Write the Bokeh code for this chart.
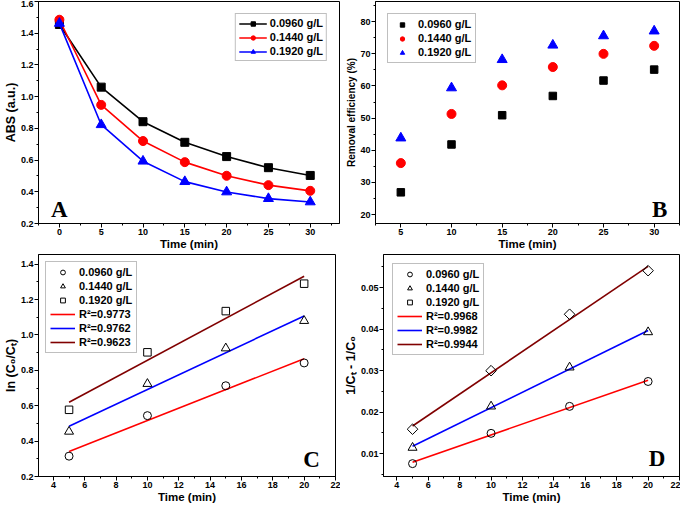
import numpy as np
from bokeh.plotting import figure
from bokeh.layouts import column, row
from bokeh.models import (Range1d, Legend, LegendItem, Label,
                          SingleIntervalTicker, PrintfTickFormatter)
from bokeh.embed import file_html
from bokeh.resources import INLINE

# ---------------- data ----------------
series_labels = ["0.0960 g/L", "0.1440 g/L", "0.1920 g/L"]

time_a = [0, 5, 10, 15, 20, 25, 30]
abs_0960 = [1.455, 1.060, 0.842, 0.712, 0.622, 0.552, 0.503]
abs_1440 = [1.485, 0.948, 0.720, 0.587, 0.501, 0.442, 0.406]
abs_1920 = [1.462, 0.823, 0.593, 0.464, 0.399, 0.357, 0.336]

time_b = [5, 10, 15, 20, 25, 30]
rem_0960 = [26.9, 41.8, 50.9, 56.9, 61.7, 65.1]
rem_1440 = [36.0, 51.3, 60.2, 65.9, 70.0, 72.5]
rem_1920 = [43.8, 59.4, 68.2, 72.7, 75.6, 77.1]

time_k = [5, 10, 15, 20]
lnc_0960 = [0.315, 0.544, 0.713, 0.842]
lnc_1440 = [0.454, 0.724, 0.925, 1.080]
lnc_1920 = [0.577, 0.902, 1.135, 1.290]
r2_c = ["R\u00b2=0.9773", "R\u00b2=0.9762", "R\u00b2=0.9623"]

inv_0960 = [0.0076, 0.0149, 0.0214, 0.0274]
inv_1440 = [0.01145, 0.0214, 0.0308, 0.0393]
inv_1920 = [0.0159, 0.0300, 0.0436, 0.0541]
r2_d = ["R\u00b2=0.9968", "R\u00b2=0.9982", "R\u00b2=0.9944"]

FONT = "Liberation Sans"
SERIF = "Liberation Serif"
FIT_COLORS = ["#ff0000", "#0000ff", "#800000"]


def make_fig(width, height, xr, yr, bl, br, bt, bb, xint, yint, xfmt, yfmt,
             xlabel, ylabel, ylabel_size):
    p = figure(width=width, height=height,
               x_range=Range1d(*xr), y_range=Range1d(*yr),
               output_backend="svg", toolbar_location=None,
               min_border_left=bl, min_border_right=br,
               min_border_top=bt, min_border_bottom=bb)
    p.xgrid.visible = False
    p.ygrid.visible = False
    p.outline_line_color = "black"
    p.outline_line_width = 1
    p.outline_line_alpha = 1
    p.background_fill_color = "white"
    p.xaxis.ticker = SingleIntervalTicker(interval=xint, num_minor_ticks=2)
    p.yaxis.ticker = SingleIntervalTicker(interval=yint, num_minor_ticks=2)
    p.xaxis.formatter = PrintfTickFormatter(format=xfmt)
    p.yaxis.formatter = PrintfTickFormatter(format=yfmt)
    p.xaxis.axis_label = xlabel
    p.yaxis.axis_label = ylabel
    for ax in (p.xaxis[0], p.yaxis[0]):
        ax.axis_line_color = "black"
        ax.axis_line_width = 1
        ax.major_tick_line_color = "black"
        ax.minor_tick_line_color = "black"
        ax.major_tick_in = 0
        ax.major_tick_out = 4
        ax.minor_tick_in = 0
        ax.minor_tick_out = 2
        ax.major_label_text_font = FONT
        ax.major_label_text_font_style = "bold"
        ax.major_label_text_font_size = "9px"
        ax.major_label_text_color = "black"
        ax.major_label_standoff = 1
        ax.axis_label_text_font = FONT
        ax.axis_label_text_font_style = "bold"
        ax.axis_label_text_color = "black"
        ax.axis_label_standoff = 0
    p.xaxis.axis_label_text_font_size = "11.5px"
    p.yaxis.axis_label_text_font_size = ylabel_size
    return p


def style_legend(leg, glyph_w, glyph_h, spacing, padding, standoff, margin):
    leg.border_line_color = "#808080"
    leg.border_line_width = 1
    leg.background_fill_color = "white"
    leg.background_fill_alpha = 1
    leg.glyph_width = glyph_w
    leg.glyph_height = glyph_h
    leg.label_height = glyph_h
    leg.spacing = spacing
    leg.padding = padding
    leg.label_standoff = standoff
    leg.margin = margin
    leg.label_text_font = FONT
    leg.label_text_font_style = "bold"
    leg.label_text_font_size = "11px"
    leg.label_text_color = "black"


def letter(p, x, y, txt, align):
    p.add_layout(Label(x=x, y=y, text=txt, text_font=SERIF,
                       text_font_style="bold", text_font_size="23px",
                       text_align=align, text_baseline="alphabetic",
                       text_color="black"))


pa = make_fig(340, 252, (-2.5, 33.5), (0.2, 1.6), 36, 1, 1, 20, 5, 0.2,
              "%d", "%.1f", "Time (min)", "ABS (a.u.)", "12.5px")
colors = ["black", "#ff0000", "#0000ff"]
markers = ["square", "circle", "triangle"]
sizes = [8, 9, 10]
items = []
for ys, c, m, s, lab in zip([abs_0960, abs_1440, abs_1920], colors, markers, sizes, series_labels):
    ln = pa.line(time_a, ys, line_color=c, line_width=1.6)
    sc = pa.scatter(time_a, ys, marker=m, size=s, fill_color=c, line_color=c)
    items.append(LegendItem(label=lab, renderers=[ln, sc]))
leg_a = Legend(items=items, location="top_right")
style_legend(leg_a, 28, 11, 2, 3, 3, 12)
pa.add_layout(leg_a)
letter(pa, -1.0, 0.29, "A", "left")

pb = make_fig(340, 252, (2.5, 32.5), (17.2, 86.3), 35, 1, 1, 20, 5, 10,
              "%d", "%d", "Time (min)", "Removal efficiency (%)", "10px")
items = []
for ys, c, m, s, lab in zip([rem_0960, rem_1440, rem_1920], colors, markers, [7.5, 9, 10], series_labels):
    sc = pb.scatter(time_b, ys, marker=m, size=s, fill_color=c, line_color=c)
    items.append(LegendItem(label=lab, renderers=[sc]))
leg_b = Legend(items=items, location="top_left")
style_legend(leg_b, 20, 11, 2, 4, 6, 12)
pb.add_layout(leg_b)
letter(pb, 31.3, 21.5, "B", "right")


def kinetic(p, ylists, open_markers, msizes, r2labels, angles):
    sc_items, fit_items = [], []
    for ys, c, r2 in zip(ylists, FIT_COLORS, r2labels):
        slope, icpt = np.polyfit(time_k, ys, 1)
        xs = [time_k[0], time_k[-1]]
        fl = p.line(xs, [slope * x + icpt for x in xs], line_color=c, line_width=1.6)
        fit_items.append(LegendItem(label=r2, renderers=[fl]))
    for ys, m, s, a, lab in zip(ylists, open_markers, msizes, angles, series_labels):
        sc = p.scatter(time_k, ys, marker=m, size=s, angle=a, fill_alpha=0,
                       line_color="black", line_width=1)
        sc_items.append(LegendItem(label=lab, renderers=[sc]))
    return sc_items + fit_items


pc = make_fig(340, 253, (3.05, 22.0), (0.2, 1.455), 37, 5, 2, 20, 2, 0.2,
              "%d", "%.1f", "Time (min)", "ln (C\u2080/C\u209c)", "12.5px")
items = kinetic(pc, [lnc_0960, lnc_1440, lnc_1920], ["circle", "triangle", "square"],
                [8, 9, 7.5], r2_c, [0, 0, 0])
leg_c = Legend(items=items, location="top_left")
style_legend(leg_c, 25, 12, 2, 4, 4, 7)
pc.add_layout(leg_c)
letter(pc, 21.0, 0.296, "C", "right")

pd_ = make_fig(340, 253, (3.15, 22.0), (0.0045, 0.058), 39, 1, 2, 20, 2, 0.01,
               "%d", "%.2f", "Time (min)", "1/C\u209c - 1/C\u2080", "12.5px")
items = kinetic(pd_, [inv_0960, inv_1440, inv_1920], ["circle", "triangle", "square"],
                [8, 9, 7.5], r2_d, [0, 0, np.pi / 4])
leg_d = Legend(items=items, location="top_left")
style_legend(leg_d, 25, 12, 2, 4, 4, 9)
pd_.add_layout(leg_d)
letter(pd_, 21.1, 0.0089, "D", "right")

layout = column(row(pa, pb), row(pc, pd_))
open("out.html", "w").write(file_html(layout, INLINE))
